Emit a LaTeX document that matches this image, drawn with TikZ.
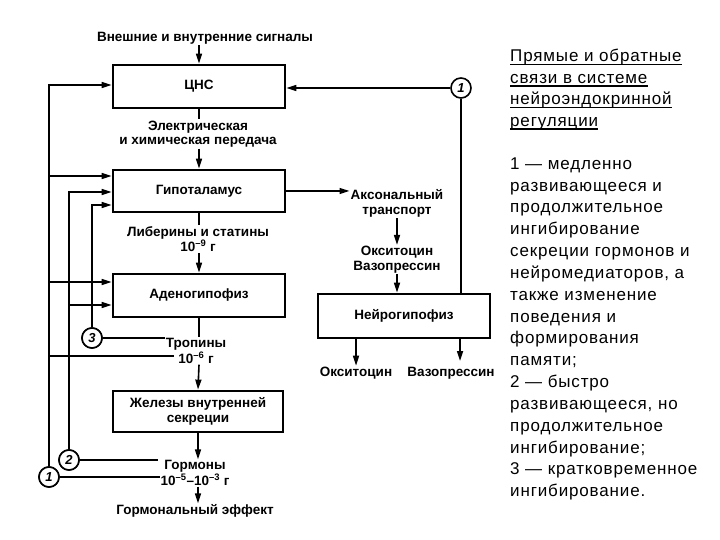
\documentclass[tikz,border=0pt]{standalone}
\usepackage{fontspec}
\setmainfont{Liberation Sans}
\newfontfamily\rfont{Liberation Sans}[LetterSpace=5]
\usetikzlibrary{arrows.meta}
\begin{document}
\begin{tikzpicture}[x=1pt,y=-1pt,
  dtext/.style={font=\bfseries\fontsize{13.5}{14.5}\selectfont, align=center, inner sep=1pt},
  box/.style={draw, line width=2.8pt, dtext, inner sep=0pt},
  ln/.style={line width=1.6pt},
  arr/.style={ln, -{Triangle[length=10pt,width=6pt]}},
  num/.style={draw, circle, line width=1.6pt, minimum size=20pt, inner sep=0pt, fill=white, font=\bfseries\itshape\fontsize{13}{13}\selectfont},
  rt/.style={anchor=base west, inner sep=0pt, font=\rfont\fontsize{17}{20}\selectfont},
  uline/.style={line width=1.3pt}]
\useasboundingbox (0,0) rectangle (720,540);
% nodes
\node[dtext] (signals) at (205,38) {Внешние и внутренние сигналы};
\node[box, minimum width=172pt, minimum height=43pt] (cns) at (199,86.5) {ЦНС};
\node[dtext] (elchem) at (198,134) {Электрическая\\и химическая передача};
\node[box, minimum width=172pt, minimum height=42pt] (hyp) at (199,191) {Гипоталамус};
\node[dtext] (liber) at (198,239) {Либерины и статины\\10\textsuperscript{–9} г};
\node[box, minimum width=172pt, minimum height=43pt] (aden) at (199,295.5) {Аденогипофиз};
\node[dtext] (trop) at (196,351) {Тропины\\10\textsuperscript{–6} г};
\node[box, minimum width=170pt, minimum height=41pt] (glands) at (198,411.5) {Железы внутренней\\секреции};
\node[dtext] (horm) at (195,473) {Гормоны\\10\textsuperscript{–5}–10\textsuperscript{–3} г};
\node[dtext] (effect) at (195,511) {Гормональный эффект};
\node[dtext] (axon) at (397,203.5) {Аксональный\\транспорт};
\node[dtext] (ov) at (397,259.5) {Окситоцин\\Вазопрессин};
\node[box, minimum width=172pt, minimum height=44pt] (neuro) at (404,316) {Нейрогипофиз};
\node[dtext] (oxy) at (356,373) {Окситоцин};
\node[dtext] (vaso) at (451,373) {Вазопрессин};
\node[num] (c1t) at (461,88) {1};
\node[num] (c3) at (92,338) {3};
\node[num] (c2) at (69,460) {2};
\node[num] (c1b) at (49,477) {1};
% helper coordinates
\coordinate (l1) at (49,85);
\coordinate (t6end) at (174,356);
\coordinate (c3end) at (165,338);
\coordinate (c2end) at (158,460);
\coordinate (c1end) at (160,477);
\coordinate (vasoT) at (460,361);
% main chain
\draw[arr] (cns.north |- signals.south) -- (cns.north);
\draw[ln] (cns.south) -- (cns.south |- elchem.north);
\draw[arr] (cns.south |- elchem.south) -- (hyp.north);
\draw[ln] (hyp.south) -- (hyp.south |- liber.north);
\draw[arr] (hyp.south |- liber.south) -- (aden.north);
\draw[ln] (aden.south) -- (aden.south |- trop.north);
\draw[arr] (aden.south |- trop.south) -- (glands.north);
\draw[arr] (glands.south) -- (glands.south |- horm.north);
\draw[arr] (glands.south |- horm.south) -- (glands.south |- effect.north);
% right branch
\draw[arr] (hyp.east) -- (hyp.east -| axon.west);
\draw[arr] (axon.south) -- (ov.north);
\draw[arr] (ov.south) -- (ov.south |- neuro.north);
\draw[arr] (neuro.south -| oxy) -- (oxy.north);
\draw[arr] (vasoT |- neuro.south) -- (vasoT);
\draw[arr] (c1t) -- (c1t -| cns.east);
\draw[ln] (c1t) -- (c1t |- neuro.north);
% feedback 1
\draw[arr] (c1b) -- (c1b |- l1) -- (cns.west |- l1);
\draw[arr] (c1b |- 0,176) -- (hyp.west |- 0,176);
\draw[arr] (c1b |- 0,282) -- (aden.west |- 0,282);
\draw[ln] (c1b |- t6end) -- (t6end);
\draw[ln] (c1b) -- (c1end);
% feedback 2
\draw[arr] (c2) -- (c2 |- 0,192) -- (hyp.west |- 0,192);
\draw[arr] (c2 |- 0,305) -- (aden.west |- 0,305);
\draw[ln] (c2) -- (c2end);
% feedback 3
\draw[arr] (c3) -- (c3 |- 0,205) -- (hyp.west |- 0,205);
\draw[ln] (c3) -- (c3end);
% redraw circles on top
\node[num] at (c1b) {1};
\node[num] at (c2) {2};
\node[num] at (c3) {3};
% right text
\node[rt] (t1) at (510,62) {Прямые и обратные};
\node[rt] (t2) at (510,83.5) {связи в системе};
\node[rt] (t3) at (510,105) {нейроэндокринной};
\node[rt] (t4) at (510,126.5) {регуляции};
\foreach \n in {t1,t2,t3,t4}
  \draw[uline] ([yshift=-2.6pt]\n.base west) -- ([yshift=-2.6pt]\n.base east);
\foreach \t [count=\i from 0] in {1 — медленно, развивающееся и, продолжительное, ингибирование, секреции гормонов и, {нейромедиаторов, а}, также изменение, поведения и, формирования, памяти;, 2 — быстро, {развивающееся, но}, продолжительное, ингибирование;, 3 — кратковременное, ингибирование.}
  \node[rt] (r\i) at (510,169.3+21.83*\i) {\t};
\end{tikzpicture}
\end{document}
